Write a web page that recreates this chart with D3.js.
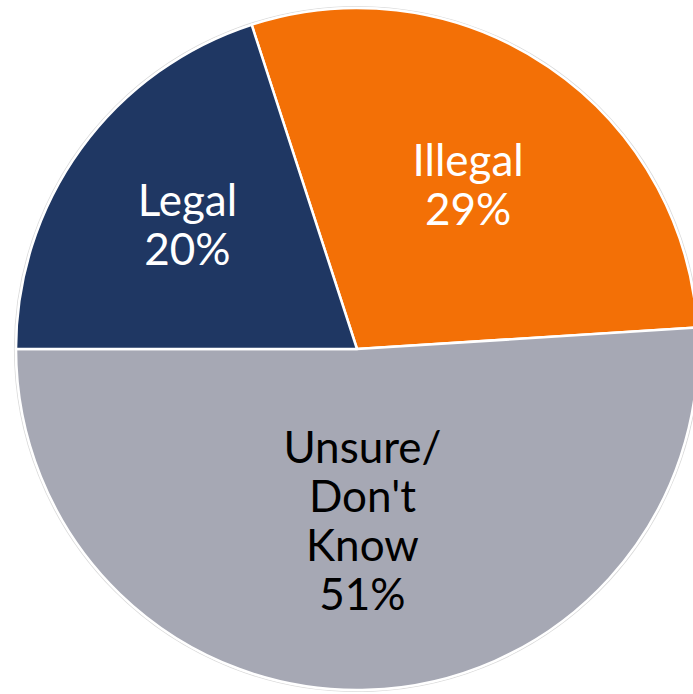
<!DOCTYPE html>
<html>
<head>
<meta charset="utf-8">
<script src="https://cdn.jsdelivr.net/npm/d3@7"></script>
<style>
  html, body { margin: 0; padding: 0; background: #ffffff; }
  svg { display: block; }
</style>
</head>
<body>
<svg id="chart" width="693" height="694"></svg>
<script>
// Categories in drawing order (clockwise from the top of the Illegal slice)
const categories = ["Illegal", "Unsure", "Legal"];
const labelLines = [["Illegal"], ["Unsure/", "Don't", "Know"], ["Legal"]];
const values = [29, 51, 20];
const colors = ["#F37006", "#A6A8B4", "#1F3763"];
const textColors = ["#ffffff", "#000000", "#ffffff"];

const width = 693, height = 694;
const cx = 357, cy = 349, radius = 341;

// where each label block sits, as a fraction of the radius along the slice mid-angle
const labelRadiusFactor = { Illegal: 0.58, Unsure: 0.505, Legal: 0.615 };

const svg = d3.select("#chart");
const g = svg.append("g").attr("transform", `translate(${cx},${cy})`);

const data = categories.map((c, i) => ({
  key: c, lines: labelLines[i], value: values[i], color: colors[i], text: textColors[i]
}));

const pie = d3.pie()
  .sort(null)
  .value(d => d.value)
  .startAngle(-0.05 * 2 * Math.PI)
  .endAngle(0.95 * 2 * Math.PI);

const arc = d3.arc().innerRadius(0).outerRadius(radius);
const arcs = pie(data);

// thin light outline around the pie
g.append("circle")
  .attr("r", radius + 1.5)
  .attr("fill", "none")
  .attr("stroke", "#dcdcdc")
  .attr("stroke-width", 1.2);

g.selectAll("path.slice")
  .data(arcs)
  .join("path")
  .attr("class", "slice")
  .attr("d", arc)
  .attr("fill", d => d.data.color)
  .attr("stroke", "#ffffff")
  .attr("stroke-width", 2.5)
  .attr("stroke-linejoin", "round");

const fontSize = 44;
const lineHeight = 49;

const labels = g.selectAll("text.lbl")
  .data(arcs)
  .join("text")
  .attr("class", "lbl")
  .attr("text-anchor", "middle")
  .attr("font-family", "Lato, 'Open Sans', sans-serif")
  .attr("font-size", fontSize)
  .attr("fill", d => d.data.text)
  .each(function(d) {
    const r = radius * labelRadiusFactor[d.data.key];
    const pos = d3.arc().innerRadius(r).outerRadius(r).centroid(d);
    const lines = d.data.lines.concat([d.data.value + "%"]);
    const n = lines.length;
    const firstBaseline = pos[1] - (n - 1) * lineHeight / 2 + 15;
    const t = d3.select(this);
    lines.forEach((ln, i) => {
      t.append("tspan")
        .attr("x", pos[0])
        .attr("y", firstBaseline + i * lineHeight)
        .text(ln);
    });
  });
</script>
</body>
</html>
